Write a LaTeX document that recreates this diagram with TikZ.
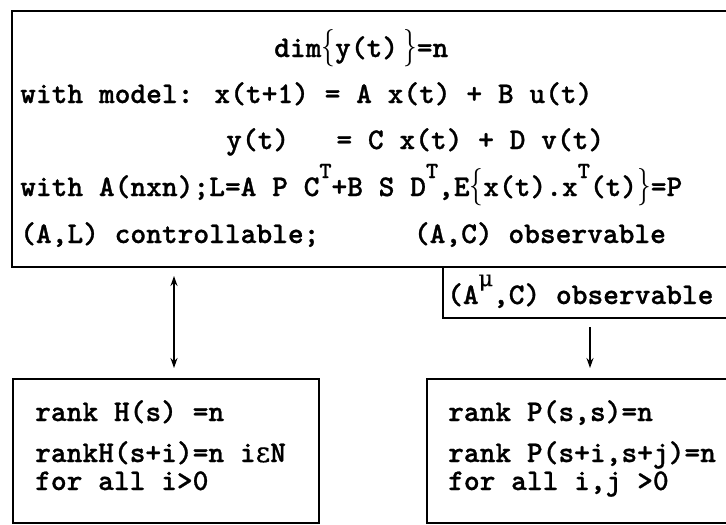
\documentclass[tikz,border=0pt]{standalone}
\usepackage{fontspec}
\newfontfamily\grk{DejaVu Serif}[FakeBold=0.6]
\newfontfamily\tw{lmmonolt10-bold.otf}[FakeBold=0.9]
\usetikzlibrary{arrows.meta}
\newcommand\supT{\raisebox{0.6em}{\fontsize{23}{23}\selectfont T}}
\newcommand\supMu{\raisebox{0.6em}{\fontsize{22}{22}\selectfont\grk μ}}
\newcommand\lbr{\scalebox{1.1}[1.5]{$\{$}}
\newcommand\rbr{\scalebox{1.1}[1.5]{$\}$}}
\begin{document}
\begin{tikzpicture}[x=1pt,y=-1pt,
  >={Stealth[length=10pt,width=7pt]},
  txt/.style={anchor=base west, inner sep=0pt, font=\fontsize{30}{30}\selectfont\tw},
  frame/.style={line width=2.2pt, line cap=rect},
  conn/.style={line width=1.6pt}
]
\useasboundingbox (0,0) rectangle (726,525);
% top box
\coordinate (tb-tr) at (726,11);
\coordinate (tb-tl) at (12,11);
\coordinate (tb-bl) at (12,267);
\coordinate (tb-br) at (726,267);
\draw[frame] (tb-tr) -- (tb-tl) -- (tb-bl) -- (tb-br);
% small box
\coordinate (sb-tl) at (443,267);
\coordinate (sb-bl) at (443,318);
\coordinate (sb-br) at (726,318);
\draw[frame] (sb-tl) -- (sb-bl) -- (sb-br);
% bottom left box
\coordinate (hl-tl) at (13,379);
\coordinate (hl-br) at (319,523);
\draw[frame] (hl-tl) rectangle (hl-br);
% bottom right box
\coordinate (pr-tr) at (726,379);
\coordinate (pr-tl) at (427,379);
\coordinate (pr-bl) at (427,523);
\coordinate (pr-br) at (726,523);
\draw[frame] (pr-tr) -- (pr-tl) -- (pr-bl) -- (pr-br);

% texts top box
\node[txt] (l1) at (274,57) {dim\lbr y(t)\,\rbr=n};
\node[txt] (l2) at (20,103) {with model: x(t+1) = A x(t) + B u(t)};
\node[txt] (l3) at (226,149) {y(t)~~~= C x(t) + D v(t)};
\node[txt] (l4) at (20,196) {with A(nxn);L=A P C\supT+B S D\supT,E\lbr x(t).x\supT(t)\rbr=P};
\node[txt] (l5) at (20,243) {(A,L) controllable;~~~~~~(A,C) observable};
% small box text
\node[txt] (obs) at (447,304) {(A\supMu,C) observable};
% bottom left text
\node[txt] (h1) at (35,421) {rank H(s) =n};
\node[txt] (h2) at (35,462) {rankH(s+i)=n i{\grk\fontsize{28}{28}\selectfont ε}N};
\node[txt] (h3) at (35,490) {for all i>0};
% bottom right text
\node[txt] (p1) at (448,421) {rank P(s,s)=n};
\node[txt] (p2) at (448,462) {rank P(s+i,s+j)=n};
\node[txt] (p3) at (448,490) {for all i,j >0};

% connectors
\coordinate (da1) at (174,276);
\coordinate (da2) at (174,368);
\draw[conn, <->] (da1) -- (da2);
\coordinate (ob1) at (590,327);
\coordinate (ob2) at (590,368);
\draw[conn, ->] (ob1) -- (ob2);
\end{tikzpicture}
\end{document}
